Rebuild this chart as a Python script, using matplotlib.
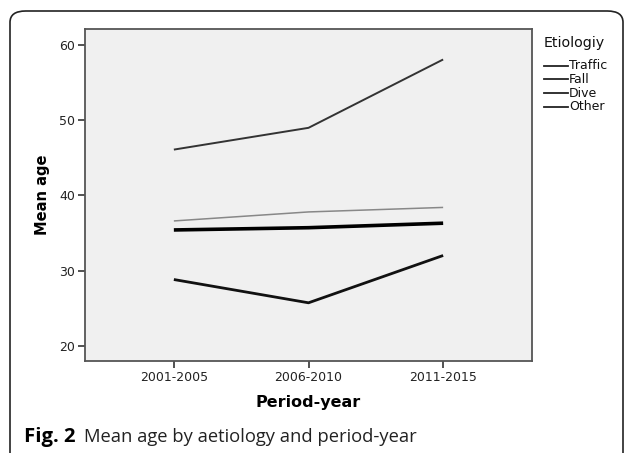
import matplotlib
matplotlib.use("Agg")
import matplotlib.pyplot as plt
from matplotlib.lines import Line2D
from matplotlib.patches import FancyBboxPatch

periods = ["2001-2005", "2006-2010", "2011-2015"]
etiologies = ["Traffic", "Fall", "Dive", "Other"]
traffic = [35.4, 35.7, 36.3]
fall = [46.1, 49.0, 58.1]
dive = [28.8, 25.7, 32.0]
other = [36.6, 37.8, 38.4]
y_ticks = [20, 30, 40, 50, 60]

W, H = 627, 453
fig = plt.figure(figsize=(W / 100, H / 100), dpi=100)
fig.patch.set_facecolor("white")

def fx(px):
    return px / W

def fy(py):
    return 1 - py / H

# rounded frame (open at bottom)
frame = FancyBboxPatch((fx(10), -0.2), fx(623 - 10), 1 + 0.2 - 11 / H,
                       boxstyle="round,pad=0,rounding_size=0.025",
                       transform=fig.transFigure, fill=False,
                       edgecolor="#222222", linewidth=1.2, clip_on=False)
fig.patches.append(frame)

ax = fig.add_axes([fx(85), fy(361), fx(532 - 85), (361 - 28.7) / H])
ax.set_facecolor("#f0f0f0")

x = list(range(len(periods)))
series = [
    (traffic, "#000000", 2.6),
    (fall, "#333333", 1.4),
    (dive, "#111111", 2.0),
    (other, "#888888", 1.1),
]
for vals, col, lw in series:
    ax.plot(x, vals, color=col, linewidth=lw, solid_capstyle="butt")

ax.set_xlim(-0.66, 2.66)
ax.set_ylim(17.95, 62.2)
ax.set_xticks(x)
ax.set_xticklabels(periods, fontsize=9)
ax.set_yticks(y_ticks)
ax.set_yticklabels([str(v) for v in y_ticks], fontsize=9)
ax.tick_params(axis="both", direction="out", length=5, width=1.2, color="#333333",
               labelcolor="#222222", pad=2)
for s in ax.spines.values():
    s.set_color("#555555")
    s.set_linewidth(1.3)

ax.set_xlabel("Period-year", fontsize=11.5, fontweight="bold", labelpad=8)
ax.set_ylabel("Mean age", fontsize=10.5, fontweight="bold", labelpad=7)

# legend (drawn manually to match spacing)
fig.text(fx(544), fy(43.5), "Etiologiy", fontsize=10.3, va="center", ha="left",
         color="#111111")
leg_y = [65.7, 79.3, 93.3, 106.7]
for name, py in zip(etiologies, leg_y):
    fig.add_artist(Line2D([fx(544), fx(568)], [fy(py), fy(py)], color="#222222",
                          linewidth=1.3, transform=fig.transFigure))
    fig.text(fx(569), fy(py), name, fontsize=9, va="center", ha="left",
             color="#111111")

fig.text(fx(24), fy(437), "Fig. 2", fontsize=14.6, fontweight="bold",
         va="center", ha="left", family="Open Sans")
fig.text(fx(84), fy(437), "Mean age by aetiology and period-year", fontsize=13.2,
         va="center", ha="left", family="Open Sans", color="#222222")

fig.savefig("out.png", dpi=100)
